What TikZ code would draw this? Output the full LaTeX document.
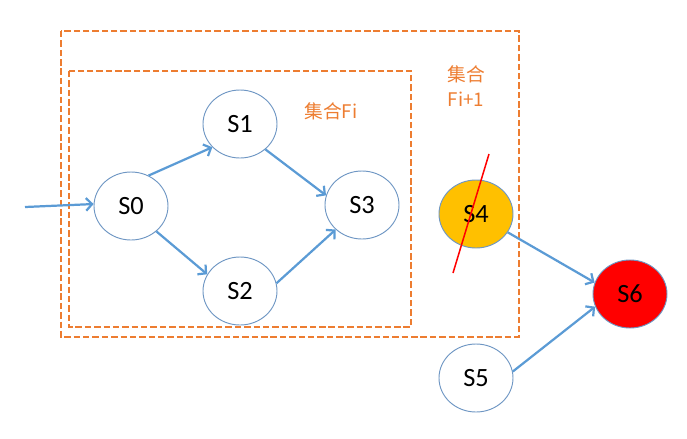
\documentclass[tikz,border=0pt]{standalone}
\usepackage{fontspec}
\setmainfont{Carlito}
\newfontfamily\cjk{Noto Sans CJK SC}
\usetikzlibrary{arrows.meta, positioning, shapes}
\definecolor{flowblue}{RGB}{91,155,213}
\definecolor{rimblue}{RGB}{110,150,195}
\definecolor{setorange}{RGB}{237,125,49}
\definecolor{gold}{RGB}{255,192,0}

\begin{document}
\begin{tikzpicture}[x=0.03cm, y=-0.03cm,
    state/.style={draw=rimblue, line width=0.8pt, ellipse, minimum width=2.22cm, minimum height=2.04cm, inner sep=0pt, font=\fontsize{22.5}{27}\selectfont},
    flow/.style={draw=flowblue, line width=1.9pt, -{Straight Barb[length=1.8mm, width=3.8mm]}},
    setbox/.style={draw=setorange, line width=1.7pt, dash pattern=on 5.5pt off 2.5pt},
    setlabel/.style={text=setorange, align=center, font=\cjk\fontsize{16}{22}\selectfont}]
  \useasboundingbox (0,0) rectangle (687,438);

  % the two sets
  \draw[setbox] (61,31) rectangle (519,337);
  \draw[setbox] (69,71) rectangle (411,327);
  \node[setlabel] (fi) at (331,111) {集合Fi};
  \node[setlabel] (fi1) at (466,86) {集合\\Fi+1};

  % states
  \node[state] (S0) at (131,206) {S0};
  \node[state] (S1) at (240,124) {S1};
  \node[state] (S2) at (240,291) {S2};
  \node[state] (S3) at (362,205) {S3};
  \node[state, fill=gold] (S4) at (476,214) {S4};
  \node[state] (S5) at (476,378) {S5};
  \node[state, fill=red] (S6) at (630,294) {S6};
  \coordinate (start) at (25,207);

  % transitions
  \draw[flow] (start) -- (S0.177);
  \draw[flow] (S0.60) -- (S1.-140);
  \draw[flow] (S0.-45) -- (S2.153);
  \draw[flow] (S1.-45) -- (S3.165);
  \draw[flow] (S2.12) -- (S3.-137);
  \draw[flow] (S4.-30) -- (S6.162);
  \draw[flow] (S5.10) -- (S6.200);

  % S4 struck out
  \draw[red, line width=1.3pt] (489,154) -- (453,273);
\end{tikzpicture}
\end{document}
